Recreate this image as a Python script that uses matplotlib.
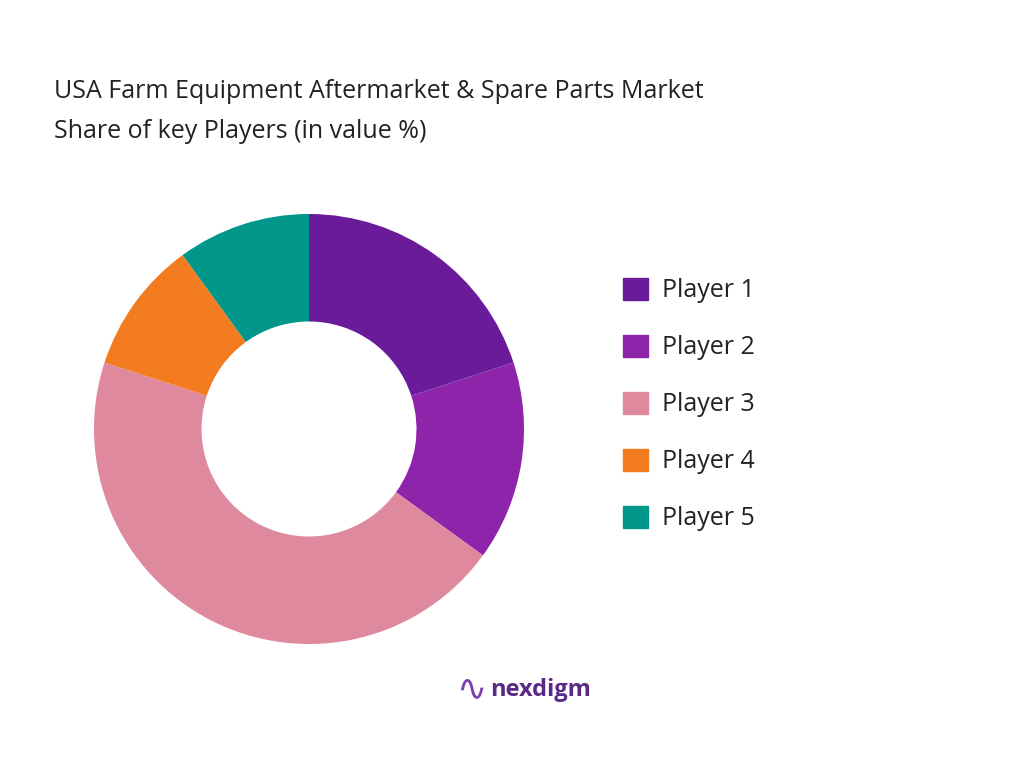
import matplotlib
matplotlib.use("Agg")
import matplotlib.pyplot as plt
from matplotlib.patches import Patch

labels = ["Player 1", "Player 2", "Player 3", "Player 4", "Player 5"]
values = [20, 15, 45, 10, 10]
colors = ["#6A1B9A", "#8E24AA", "#DF899F", "#F47C20", "#00968A"]

plt.rcParams['font.family'] = ['Open Sans', 'DejaVu Sans']
fig = plt.figure(figsize=(10.24, 7.68), dpi=100)
ax = fig.add_axes([94/1024, 1-644/768, 430/1024, 430/768])
ax.pie(values, colors=colors, startangle=90, counterclock=False,
       wedgeprops=dict(width=0.5, edgecolor='none'))
ax.set_xlim(-1, 1)
ax.set_ylim(-1, 1)
ax.set_aspect('equal')

fig.text(54/1024, 1-92/768, "USA Farm Equipment Aftermarket & Spare Parts Market", fontsize=18, va='center', color='#222222')
fig.text(54/1024, 1-131/768, "Share of key Players (in value %)", fontsize=18, va='center', color='#222222')

handles = [Patch(color=c) for c in colors]
fig.legend(handles, labels, loc='upper left', bbox_to_anchor=(600/1024, 1-255/768),
           frameon=False, fontsize=18, labelspacing=1.25, handlelength=1.0, handleheight=1.0,
           handletextpad=0.6, labelcolor='#222222')

fig.text(490/1024, 1-690/768, "nexdigm", fontsize=17, fontweight='bold', color='#5B2A86', va='center')
fig.text(456/1024, 1-690/768, "∿", fontsize=26, color='#7B3FB0', va='center')
fig.savefig("out.png", dpi=100)
